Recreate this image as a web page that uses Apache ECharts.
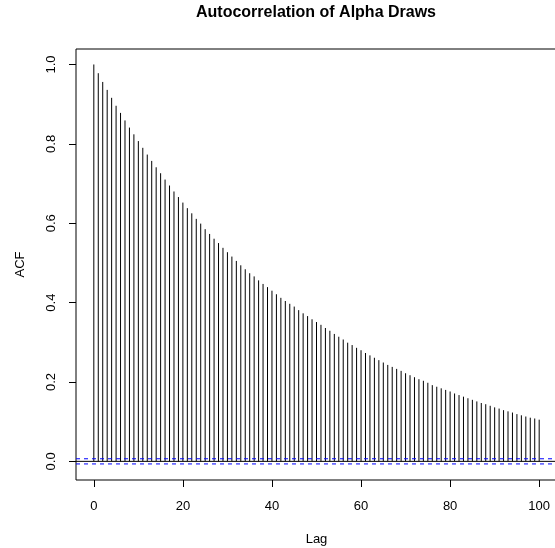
<!DOCTYPE html>
<html>
<head>
<meta charset="utf-8">
<script src="https://cdn.jsdelivr.net/npm/echarts@6/dist/echarts.min.js"></script>
<style>
html,body{margin:0;padding:0;background:#fff;}
#chart{width:555px;height:548px;}
</style>
</head>
<body>
<div id="chart"></div>
<script>
// Data
var titleText = 'Autocorrelation of Alpha Draws';
var xName = 'Lag';
var yName = 'ACF';
var lags = [0,1,2,3,4,5,6,7,8,9,10,11,12,13,14,15,16,17,18,19,20,21,22,23,24,25,26,27,28,29,30,31,32,33,34,35,36,37,38,39,40,41,42,43,44,45,46,47,48,49,50,51,52,53,54,55,56,57,58,59,60,61,62,63,64,65,66,67,68,69,70,71,72,73,74,75,76,77,78,79,80,81,82,83,84,85,86,87,88,89,90,91,92,93,94,95,96,97,98,99,100];
var acfValues = [1.0,0.978,0.956,0.936,0.916,0.896,0.878,0.859,0.841,0.824,
  0.807,0.790,0.773,0.757,0.741,0.726,0.710,0.695,0.680,0.666,
  0.652,0.638,0.625,0.611,0.599,0.585,0.573,0.561,0.550,0.538,
  0.527,0.516,0.505,0.494,0.484,0.474,0.466,0.456,0.447,0.439,
  0.430,0.421,0.412,0.404,0.397,0.390,0.381,0.373,0.366,0.358,
  0.351,0.344,0.336,0.329,0.321,0.314,0.307,0.299,0.293,0.286,
  0.280,0.273,0.267,0.261,0.255,0.249,0.243,0.238,0.233,0.228,
  0.222,0.217,0.212,0.207,0.203,0.198,0.192,0.188,0.184,0.180,
  0.176,0.171,0.167,0.163,0.159,0.155,0.151,0.147,0.144,0.140,
  0.136,0.133,0.129,0.126,0.123,0.119,0.116,0.113,0.110,0.108,
  0.105];
var ciBound = 0.0065;
var xTicks = [0,20,40,60,80,100];
var yTicks = [0,0.2,0.4,0.6,0.8,1.0];
var xRange = [-4,104];
var yRange = [-0.047,1.039];

var pts = lags.map(function(l,i){ return [l, acfValues[i]]; });
var font = 'Liberation Sans, Arial, Helvetica, sans-serif';

var chart = echarts.init(document.getElementById('chart'), null, {renderer:'canvas'});
chart.setOption({
  animation:false,
  backgroundColor:'#ffffff',
  title:{
    text:titleText, left:311, top:0, textAlign:'center',
    textStyle:{fontFamily:font, fontWeight:'bold', fontSize:16, color:'#000'}
  },
  grid:{left:76, top:49, width:481, height:431, show:true, borderColor:'#000', borderWidth:1,
    backgroundColor:'transparent', containLabel:false, outerBoundsMode:'none'},
  xAxis:{
    type:'value', min:xRange[0], max:xRange[1],
    name:xName, nameLocation:'middle', nameGap:53,
    nameTextStyle:{fontFamily:font, fontSize:13, color:'#000'},
    axisLine:{show:false, onZero:false},
    axisTick:{show:true, inside:false, length:7, customValues:xTicks, lineStyle:{color:'#000', width:1}},
    axisLabel:{show:true, customValues:xTicks, margin:20, fontFamily:font, fontSize:13, color:'#000'},
    splitLine:{show:false}
  },
  yAxis:{
    type:'value', min:yRange[0], max:yRange[1],
    name:yName, nameLocation:'middle', nameGap:49, nameRotate:90,
    nameTextStyle:{fontFamily:font, fontSize:13, color:'#000'},
    axisLine:{show:false, onZero:false},
    axisTick:{show:true, inside:false, length:7, customValues:yTicks, lineStyle:{color:'#000', width:1}},
    axisLabel:{show:true, customValues:yTicks, rotate:90, margin:18, fontFamily:font, fontSize:13, color:'#000',
      formatter:function(v){ return v.toFixed(1); }},
    splitLine:{show:false}
  },
  series:[
    {
      type:'custom', silent:true, clip:true,
      data:pts,
      encode:{x:0,y:1},
      renderItem:function(params, api){
        var x = api.value(0), v = api.value(1);
        var p0 = api.coord([x,0]), p1 = api.coord([x,v]);
        return {type:'line', shape:{x1:p0[0], y1:p0[1], x2:p1[0], y2:p1[1]},
          style:{stroke:'#000', lineWidth:1}};
      }
    },
    {
      type:'line', silent:true, symbol:'none',
      data:[[xRange[0],0],[xRange[1],0]],
      lineStyle:{color:'#000', width:1}
    },
    {
      type:'line', silent:true, symbol:'none',
      data:[[xRange[0],ciBound],[xRange[1],ciBound]],
      lineStyle:{color:'#0000ff', width:1, type:[4,4]}
    },
    {
      type:'line', silent:true, symbol:'none',
      data:[[xRange[0],-ciBound],[xRange[1],-ciBound]],
      lineStyle:{color:'#0000ff', width:1, type:[4,4]}
    }
  ]
});
</script>
</body>
</html>
